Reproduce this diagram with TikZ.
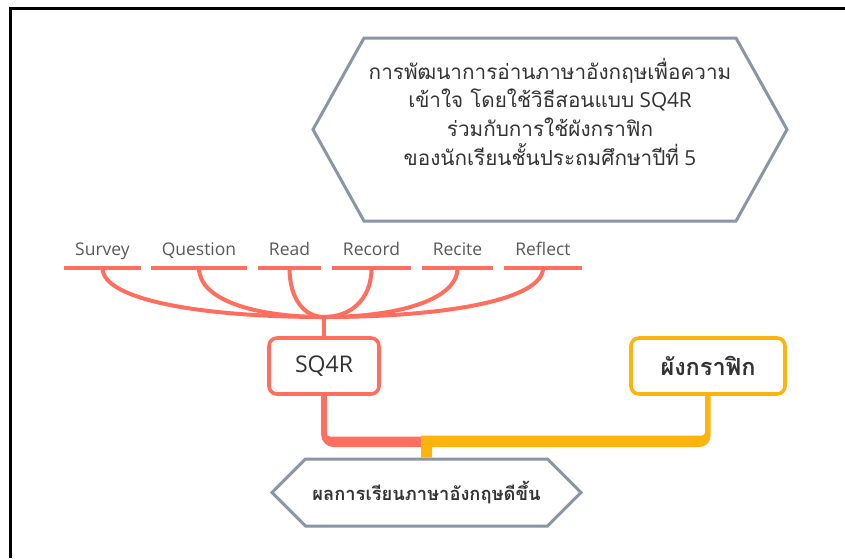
\documentclass[tikz,border=0pt]{standalone}
\usepackage{fontspec}
\setmainfont{Open Sans}
\newfontfamily\thai[Script=Thai]{Loma}
\usetikzlibrary{calc}
\definecolor{redc}{HTML}{FF6E5E}
\definecolor{yelc}{HTML}{FFB30F}
\definecolor{hexc}{HTML}{8A95A5}
\definecolor{txtc}{HTML}{333333}
\definecolor{labc}{HTML}{595959}
\begin{document}
\begin{tikzpicture}[x=1pt,y=-1pt,
  hexnode/.style={rectangle, inner sep=0, outer sep=0, draw=none},
  hexline/.style={draw=hexc, line width=3, line join=miter},
  stepbox/.style={rectangle, rounded corners=8, line width=3.6, fill=white, inner sep=0, outer sep=0, minimum height=56, text=txtc},
  steplab/.style={inner sep=0, outer sep=0, text height=13, text depth=13, text=labc, font=\fontsize{17.5}{20}\selectfont, anchor=base},
  labline/.style={draw=redc, line width=4},
  branch/.style={draw=redc, line width=4},
]
\fill[white] (0,0) rectangle (845,558);
\useasboundingbox (0,0) rectangle (845,558);
\draw[black, line width=3] (10,558) -- (10,8) -- (845,8);

% top hexagon
\node[hexnode, minimum width=474, minimum height=183, align=center, text=txtc,
  font=\fontsize{20.7}{28.8}\selectfont] (goal) at (550,129.5)
  {{\thai การพัฒนาการอ่านภาษาอังกฤษเพื่อความ}\\
   {\thai เข้าใจ โดยใช้วิธีสอนแบบ} SQ4R\\
   {\thai ร่วมกับการใช้ผังกราฟิก}\\
   {\thai ของนักเรียนชั้นประถมศึกษาปีที่} 5\\
   \mbox{}\rule[-7pt]{0pt}{0pt}};
\draw[hexline] (goal.west) -- ($(goal.north west)+(51,0)$) -- ($(goal.north east)+(-51,0)$)
  -- (goal.east) -- ($(goal.south east)+(-51,0)$) -- ($(goal.south west)+(51,0)$) -- cycle;

% boxes
\node[stepbox, draw=redc, minimum width=110, font=\fontsize{23}{26}\selectfont] (sq) at (324,366) {SQ4R};
\node[stepbox, draw=yelc, minimum width=154, font=\thai\bfseries\fontsize{23.5}{26}\selectfont] (gr) at (708,366) {ผังกราฟิก};

% result hexagon
\node[hexnode, minimum width=309, minimum height=67, text=txtc,
  font=\thai\bfseries\fontsize{18.3}{22}\selectfont] (res) at (426.5,492.5) {ผลการเรียนภาษาอังกฤษดีขึ้น};
\draw[hexline] (res.west) -- ($(res.north west)+(33.5,0)$) -- ($(res.north east)+(-33.5,0)$)
  -- (res.east) -- ($(res.south east)+(-33.5,0)$) -- ($(res.south west)+(33.5,0)$) -- cycle;

% step labels
\foreach \nm/\txt/\cx/\w in {sv/Survey/102.5/77, qu/Question/199/96, rd/Read/289.5/63,
  rc/Record/371.5/79, rt/Recite/457.5/71, rf/Reflect/543/78} {
  \node[steplab, minimum width=\w] (\nm) at (\cx,255) {\txt};
  \draw[labline] (\nm.south west) -- (\nm.south east);
}
\coordinate (hub) at ($(sq.north)+(0,-21)$);
\foreach \nm in {sv,qu,rd,rc,rt,rf}
  \draw[branch] (\nm.south) .. controls ($(\nm.south)+(0,32)$) and ($(\nm.south |- hub)!0.45!(hub)$) .. (hub);
\draw[branch] (hub) -- (sq.north);

% SQ4R -> result (red)
\fill[redc] ($(sq.south)+(-2.8,0)$) -- ($(sq.south)+(-2.8,41)$)
  .. controls ($(sq.south)+(-2.8,47.6)$) and ($(sq.south)+(3.2,53)$) .. ($(sq.south)+(9.2,53)$)
  -- ($(res.north)+(-5.5,-12)$) -- ($(res.north)+(-5.5,-22.5)$)
  -- ($(sq.south)+(6,42.5)$)
  .. controls ($(sq.south)+(3.8,42.5)$) and ($(sq.south)+(2.8,41.5)$) .. ($(sq.south)+(2.8,39.7)$)
  -- ($(sq.south)+(2.8,0)$) -- cycle;
% graphic organiser -> result (yellow)
\fill[yelc] ($(res.north)+(-5.5,-23.5)$) -- ($(gr.south)+(-6,41.5)$)
  .. controls ($(gr.south)+(-4.3,41.5)$) and ($(gr.south)+(-3,40.2)$) .. ($(gr.south)+(-3,38.5)$)
  -- ($(gr.south)+(-3,0)$) -- ($(gr.south)+(2.5,0)$) -- ($(gr.south)+(2.5,42)$)
  .. controls ($(gr.south)+(2.5,48.1)$) and ($(gr.south)+(-2.4,53)$) .. ($(gr.south)+(-8.5,53)$)
  -- ($(res.north)+(5.5,-12)$) -- ($(res.north)+(5.5,-1.5)$) -- ($(res.north)+(-5.5,-1.5)$) -- cycle;
\end{tikzpicture}
\end{document}
